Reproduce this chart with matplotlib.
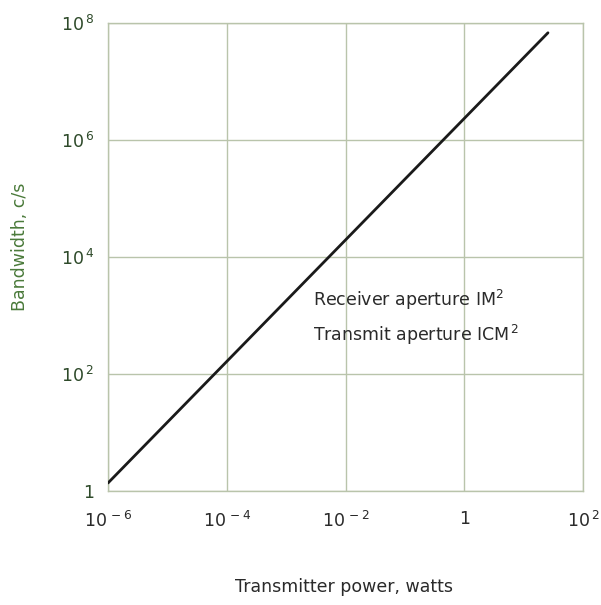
import matplotlib
matplotlib.use("Agg")
import matplotlib.pyplot as plt
import numpy as np
from matplotlib.ticker import FixedLocator, NullLocator

# Data
power_watts = [1e-6, 25.7]
bandwidth_cs = [1.37, 6.8e7]
x_ticks = [1e-6, 1e-4, 1e-2, 1, 1e2]
x_ticklabels = [r'$10^{\,-6}$', r'$10^{\,-4}$', r'$10^{\,-2}$', '1', r'$10^{\,2}$']
y_ticks = [1, 1e2, 1e4, 1e6, 1e8]
y_ticklabels = ['1', r'$10^{\,2}$', r'$10^{\,4}$', r'$10^{\,6}$', r'$10^{\,8}$']
annotations = ['Receiver aperture IM$^2$', 'Transmit aperture ICM$^{\\,2}$']

plt.rcParams['font.family'] = ['DejaVu Sans']
plt.rcParams['mathtext.fontset'] = 'dejavusans'

fig = plt.figure(figsize=(6.01, 6.05), dpi=100)
ax = fig.add_axes([108/601, 1-491/605, 475/601, 468/605])
ax.set_xscale('log')
ax.set_yscale('log')
ax.set_xlim(1e-6, 1e2)
ax.set_ylim(1, 1e8)

grid_c = '#b9c4ab'
ax.plot(power_watts, bandwidth_cs, color='#1a1a1a', lw=2.0, solid_capstyle='round', zorder=3)

ax.xaxis.set_major_locator(FixedLocator(x_ticks))
ax.yaxis.set_major_locator(FixedLocator(y_ticks))
ax.xaxis.set_minor_locator(NullLocator())
ax.yaxis.set_minor_locator(NullLocator())
ax.set_xticklabels(x_ticklabels)
ax.set_yticklabels(y_ticklabels)
ax.tick_params(axis='x', length=0, pad=14, labelsize=12.5, labelcolor='#2a2a2a')
ax.tick_params(axis='y', length=0, pad=10, labelsize=12.5, labelcolor='#2e4a2a')
ax.grid(True, color=grid_c, lw=1.0)
for s in ax.spines.values():
    s.set_color(grid_c)
    s.set_linewidth(1.0)

ax.text(2.8e-3, 10**3.26, annotations[0], fontsize=12.5, color='#2a2a2a', va='center', ha='left')
ax.text(2.8e-3, 10**2.67, annotations[1], fontsize=12.5, color='#2a2a2a', va='center', ha='left')

fig.text(344/601, 1-587/605, 'Transmitter power, watts', fontsize=12.5, color='#2a2a2a', ha='center', va='center')
fig.text(20/601, 1-247/605, 'Bandwidth, c/s', fontsize=12.5, color='#4a7a3a', ha='center', va='center', rotation=90)

fig.savefig('out.png', dpi=100)
